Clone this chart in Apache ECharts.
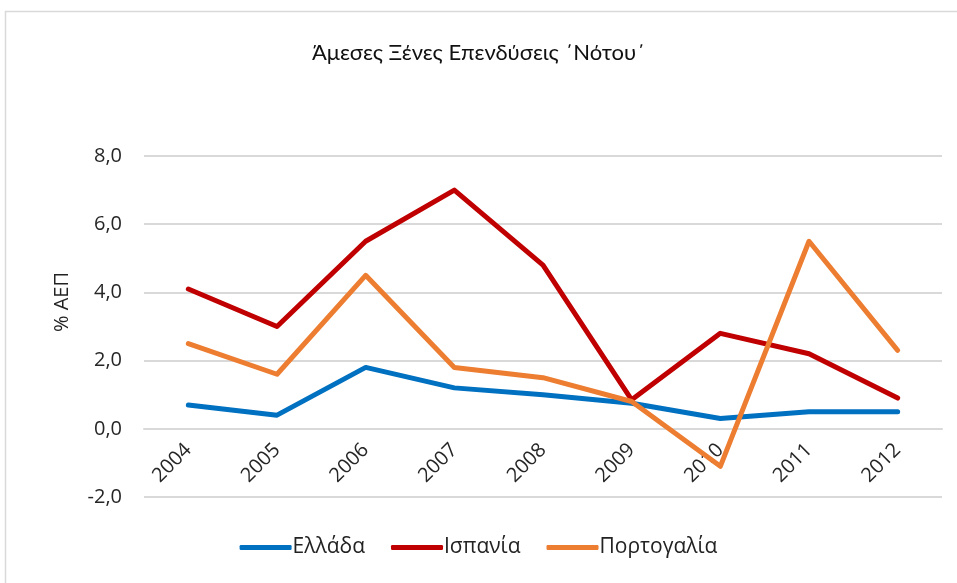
<!DOCTYPE html>
<html>
<head>
<meta charset="utf-8">
<script src="https://cdn.jsdelivr.net/npm/echarts@6/dist/echarts.min.js"></script>
<style>
html, body { margin: 0; padding: 0; background: #fff; }
#chart-panel { width: 957px; height: 583px; }
</style>
</head>
<body>
<div id="chart-panel"></div>
<script>
var years = ['2004', '2005', '2006', '2007', '2008', '2009', '2010', '2011', '2012'];
var greece = [0.7, 0.4, 1.8, 1.2, 1.0, 0.75, 0.3, 0.5, 0.5];
var spain = [4.1, 3.0, 5.5, 7.0, 4.8, 0.85, 2.8, 2.2, 0.9];
var portugal = [2.5, 1.6, 4.5, 1.8, 1.5, 0.8, -1.1, 5.5, 2.3];
var seriesNames = ['Ελλάδα', 'Ισπανία', 'Πορτογαλία'];
var colors = ['#0070C0', '#C00000', '#ED7D31'];

var myChart = echarts.init(document.getElementById('chart-panel'));
var font = 'Open Sans';
var gridTop = 156, gridBottom = 86;
// y axis runs -2..8, the category labels sit on the 0 line
var zeroOffset = (583 - gridTop - gridBottom) * 2 / 10;

function makeLine(name, values, color) {
	return {
		name: name,
		type: 'line',
		data: values,
		symbol: 'none',
		lineStyle: { width: 5, color: color, cap: 'round', join: 'round' },
		itemStyle: { color: color },
		animation: false
	};
}

var option = {
	backgroundColor: '#fff',
	title: {
		text: 'Άμεσες Ξένες Επενδύσεις \u0384Νότου\u0384',
		left: 'center',
		top: 37,
		textStyle: { fontFamily: 'Lato, "Noto Sans", sans-serif', fontSize: 22, fontWeight: 'normal', color: '#111' }
	},
	graphic: [
		{
			type: 'rect',
			shape: { x: 5.5, y: 11.5, width: 960, height: 600 },
			style: { fill: 'none', stroke: '#d9d9d9', lineWidth: 1.5 },
			silent: true
		},
		{
			type: 'text',
			x: 62,
			y: 302,
			rotation: Math.PI / 2,
			style: {
				text: '% ΑΕΠ',
				fontFamily: font,
				fontSize: 20,
				fill: '#222',
				align: 'center',
				verticalAlign: 'middle'
			}
		}
	],
	legend: {
		bottom: 20,
		left: 'center',
		icon: 'roundRect',
		itemWidth: 52,
		itemHeight: 5,
		itemGap: 26,
		data: seriesNames,
		textStyle: { fontFamily: font, fontSize: 21, color: '#222', padding: [0, 0, 0, -4] }
	},
	grid: { left: 144, right: 15, top: gridTop, bottom: gridBottom },
	xAxis: {
		type: 'category',
		data: years,
		boundaryGap: true,
		offset: -zeroOffset,
		axisLine: { onZero: false, lineStyle: { color: '#d9d9d9', width: 2 } },
		axisTick: { show: false },
		axisLabel: { rotate: 45, fontFamily: font, fontSize: 20, color: '#262626', margin: 18 }
	},
	yAxis: {
		type: 'value',
		min: -2,
		max: 8,
		interval: 2,
		axisLine: { show: false },
		axisTick: { show: false },
		splitLine: { lineStyle: { color: '#d9d9d9', width: 2 } },
		axisLabel: {
			fontFamily: font,
			fontSize: 20,
			color: '#262626',
			margin: 22,
			formatter: function (v) { return v.toFixed(1).replace('.', ','); }
		}
	},
	series: [
		makeLine(seriesNames[0], greece, colors[0]),
		makeLine(seriesNames[1], spain, colors[1]),
		makeLine(seriesNames[2], portugal, colors[2])
	]
};
myChart.setOption(option);
</script>
</body>
</html>
